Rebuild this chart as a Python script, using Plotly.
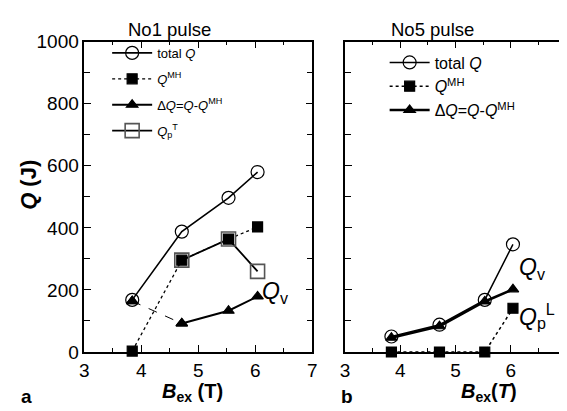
import plotly.graph_objects as go

# ---- data ----
B = [3.84, 4.71, 5.53, 6.04]
# panel a : No1 pulse
a_total = [168, 388, 497, 580]
a_mh = [3, 296, 364, 403]
a_dq = [164, 92, 133, 179]
a_qpt_B = [4.71, 5.53, 6.04]
a_qpt = [296, 364, 260]
# panel b : No5 pulse
b_total = [50, 88, 168, 347]
b_mh = [0, 0, 0, 141]
b_dq = [46, 83, 163, 202]
x_ticks = [3, 4, 5, 6, 7]

FONT = "Liberation Sans, Arial, sans-serif"
BLK = "black"

fig = go.Figure()

def sc(x, y, xa, ya, name, sym, size, dash="solid", lw=1.5, legend="legend",
       showlegend=True, mode="lines+markers", mcolor=BLK, mline=1.2, lcolor=BLK,
       rank=1000):
    fig.add_trace(go.Scatter(
        x=x, y=y, xaxis=xa, yaxis=ya, name=name, mode=mode,
        line=dict(color=BLK, width=lw, dash=dash),
        marker=dict(symbol=sym, size=size, color=mcolor,
                    line=dict(color=lcolor, width=mline)),
        legend=legend, showlegend=showlegend, cliponaxis=False,
        legendrank=rank, legendgroup=f"{legend}{rank}"))

# panel a
sc(B, a_mh, "x", "y", "<i>Q</i><sup>MH</sup>", "square", 10, dash="dot", lw=1.3, rank=2)
sc(B[:2], a_dq[:2], "x", "y", "", "triangle-up", 10, dash="dash", lw=1, showlegend=False, rank=10)
sc(a_qpt_B, a_qpt, "x", "y", "<i>Q</i><sub>p</sub><sup>T</sup>", "square-open", 14,
   lw=1.8, mline=1.6, mcolor="#555", lcolor="#555", rank=4)
sc(B, a_total, "x", "y", "total <i>Q</i>", "circle-open", 13, lw=1.6, rank=1)
sc(B[1:], a_dq[1:], "x", "y", "Δ<i>Q</i>=<i>Q</i>-<i>Q</i><sup>MH</sup>", "triangle-up", 10, lw=2, rank=3)
sc([B[0]], [a_dq[0]], "x", "y", "", "triangle-up", 10, mode="markers", showlegend=False, rank=11)

# panel b
sc(B, b_total, "x2", "y2", "total <i>Q</i>", "circle-open", 13, lw=1.5, legend="legend2", rank=1)
sc(B, b_mh, "x2", "y2", "<i>Q</i><sup>MH</sup>", "square", 10, dash="dot", lw=1.5, legend="legend2", rank=2)
sc(B, b_dq, "x2", "y2", "Δ<i>Q</i>=<i>Q</i>-<i>Q</i><sup>MH</sup>", "triangle-up", 10, lw=2.6, legend="legend2", rank=3)

W, H = 567, 411
RM = 9
PW = W - RM
def px(x): return x / PW
def py(y): return 1 - y / H

axis_common = dict(
    showline=True, linecolor=BLK, linewidth=1.5, mirror="allticks",
    ticks="inside", ticklen=7, tickwidth=1.2, tickcolor=BLK,
    showgrid=False, zeroline=False, ticklabeloverflow="allow",
    tickfont=dict(family=FONT, size=19, color=BLK))
xcommon = dict(axis_common, range=[3, 7], tickmode="array", tickvals=x_ticks,
               minor=dict(dtick=0.5, tick0=3, ticks="inside", ticklen=4, tickcolor=BLK, tickwidth=1.2, showgrid=False))
ycommon = dict(axis_common, range=[0, 1000], dtick=200, tick0=0,
               minor=dict(dtick=100, ticks="inside", ticklen=6, tickcolor=BLK, tickwidth=1.2, showgrid=False))

fig.update_layout(
    width=W, height=H, margin=dict(l=0, r=RM, t=0, b=0),
    paper_bgcolor="white", plot_bgcolor="white",
    font=dict(family=FONT, color=BLK),
    xaxis=dict(xcommon, domain=[px(72), px(302)], anchor="y"),
    yaxis=dict(ycommon, domain=[py(352), py(25)], anchor="x"),
    xaxis2=dict(xcommon, domain=[px(335), 1.0], anchor="y2"),
    yaxis2=dict(ycommon, domain=[py(352), py(25)], anchor="x2", showticklabels=False),
    legend=dict(x=px(95), y=py(21), xanchor="left", yanchor="top",
                bgcolor="rgba(0,0,0,0)", font=dict(size=13, family=FONT),
                traceorder="grouped", itemwidth=40, tracegroupgap=6),
    legend2=dict(x=px(375), y=py(29), xanchor="left", yanchor="top",
                 bgcolor="rgba(0,0,0,0)", font=dict(size=16, family=FONT),
                 traceorder="grouped", itemwidth=40, tracegroupgap=0),
    showlegend=True,
)

ann = []
def A(text, x, y, size=17, xanchor="center", yanchor="middle", angle=0, xref="paper", yref="paper"):
    ann.append(dict(text=text, x=x, y=y, xref=xref, yref=yref, showarrow=False,
                    xanchor=xanchor, yanchor=yanchor, textangle=angle,
                    font=dict(family=FONT, size=size, color=BLK)))

A("No1 pulse", px(158), py(12), size=18.5)
A("No5 pulse", px(423), py(12), size=18.5)
A("<b><i>Q</i> (J)</b>", px(15), py(176), size=22, angle=-90)
A("<b><i>B</i><sub>ex</sub> (T)</b>", px(181), py(395), size=20)
A("<b><i>B</i><sub>ex</sub>(<i>T</i>)</b>", px(480), py(395), size=20)
A("<b>a</b>", px(14), py(399), size=19)
A("<b>b</b>", px(337), py(399), size=19)
A("<i>Q</i><sub>v</sub>", 6.08, 192, size=23, xanchor="left", xref="x", yref="y")
A("<i>Q</i><sub>v</sub>", 6.12, 270, size=23, xanchor="left", xref="x2", yref="y2")
A("<i>Q</i><sub>p</sub><sup>L</sup>", 6.12, 115, size=23, xanchor="left", xref="x2", yref="y2")
fig.update_layout(annotations=ann)

fig.write_html("out.html")
